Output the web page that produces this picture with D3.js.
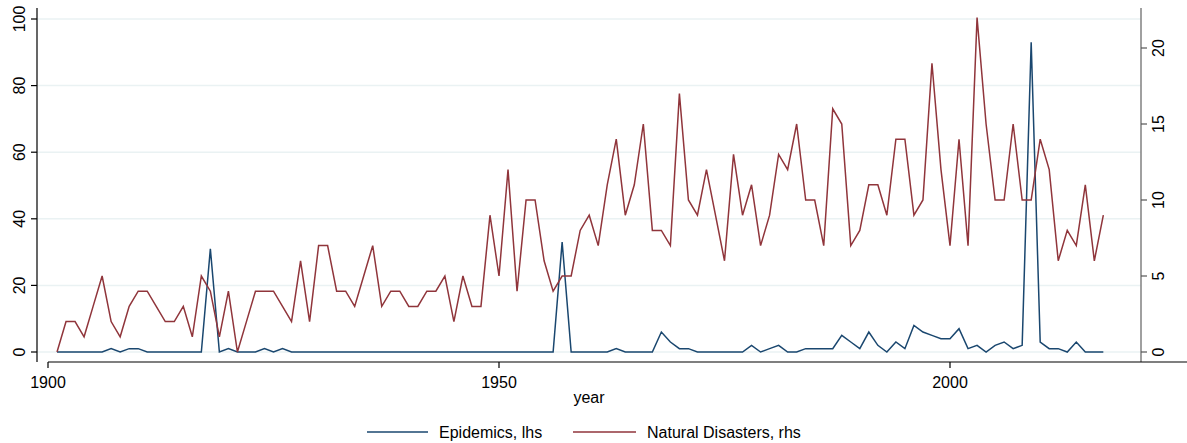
<!DOCTYPE html>
<html>
<head>
<meta charset="utf-8">
<script src="https://cdn.jsdelivr.net/npm/d3@7/dist/d3.min.js"></script>
<style>
  html, body { margin: 0; padding: 0; background: #fff; }
  svg { display: block; font-family: "Liberation Sans", Arial, sans-serif; }
</style>
</head>
<body>
<svg id="chart" width="1187" height="443"></svg>
<script>
const years = d3.range(1901, 2018);
const epidemics = [
  0,0,0,0,0,0,1,0,1,1, 0,0,0,0,0,0,0,31,0,1,
  0,0,0,1,0,1,0,0,0,0, 0,0,0,0,0,0,0,0,0,0,
  0,0,0,0,0,0,0,0,0,0, 0,0,0,0,0,0,33,0,0,0,
  0,0,1,0,0,0,0,6,3,1, 1,0,0,0,0,0,0,2,0,1,
  2,0,0,1,1,1,1,5,3,1, 6,2,0,3,1,8,6,5,4,4,
  7,1,2,0,2,3,1,2,93,3, 1,1,0,3,0,0,0
];
const disasters = [
  0,2,2,1,3,5,2,1,3,4, 4,3,2,2,3,1,5,4,1,4,
  0,2,4,4,4,3,2,6,2,7, 7,4,4,3,5,7,3,4,4,3,
  3,4,4,5,2,5,3,3,9,5, 12,4,10,10,6,4,5,5,8,9,
  7,11,14,9,11,15,8,8,7,17, 10,9,12,9,6,13,9,11,7,9,
  13,12,15,10,10,7,16,15,7,8, 11,11,9,14,14,9,10,19,12,7,
  14,7,22,15,10,10,15,10,10,14, 12,6,8,7,11,6,9
];
const xTicks = [1900, 1950, 2000];
const leftTicks = [0, 20, 40, 60, 80, 100];
const rightTicks = [0, 5, 10, 15, 20];
const seriesNames = ["Epidemics, lhs", "Natural Disasters, rhs"];
const colors = ["#1a476f", "#90353b"];

const svg = d3.select("#chart");
const x = d3.scaleLinear().domain([1900, 2000]).range([48, 950]);
const yL = d3.scaleLinear().domain([0, 100]).range([352, 19]);
const yR = d3.scaleLinear().domain([0, 20]).range([352, 48]);

const plotLeft = 37, plotRight = 1141, plotTop = 8, plotBottom = 362;

// gridlines
svg.append("g").selectAll("line").data(leftTicks).join("line")
  .attr("x1", plotLeft).attr("x2", plotRight)
  .attr("y1", d => yL(d)).attr("y2", d => yL(d))
  .attr("stroke", "#eaf2f3").attr("stroke-width", 1.5);

// left axis
const gL = svg.append("g");
gL.append("line").attr("x1", plotLeft).attr("x2", plotLeft).attr("y1", plotTop).attr("y2", plotBottom)
  .attr("stroke", "#000").attr("stroke-width", 1.2);
gL.selectAll(".t").data(leftTicks).join("line")
  .attr("x1", plotLeft - 6).attr("x2", plotLeft)
  .attr("y1", d => yL(d)).attr("y2", d => yL(d))
  .attr("stroke", "#000").attr("stroke-width", 1.2);
gL.selectAll("text").data(leftTicks).join("text")
  .attr("transform", d => `translate(25,${yL(d)}) rotate(-90)`)
  .attr("text-anchor", "middle").attr("font-size", 16).attr("fill", "#000")
  .text(d => d);

// right axis
const gR = svg.append("g");
gR.append("line").attr("x1", plotRight).attr("x2", plotRight).attr("y1", plotTop).attr("y2", plotBottom)
  .attr("stroke", "#808080").attr("stroke-width", 1.5);
gR.selectAll(".t").data(rightTicks).join("line")
  .attr("x1", plotRight).attr("x2", plotRight + 6)
  .attr("y1", d => yR(d)).attr("y2", d => yR(d))
  .attr("stroke", "#555").attr("stroke-width", 1.2);
gR.selectAll("text").data(rightTicks).join("text")
  .attr("transform", d => `translate(1164,${yR(d)}) rotate(-90)`)
  .attr("text-anchor", "middle").attr("font-size", 16).attr("fill", "#000")
  .text(d => d);

// x axis
const gX = svg.append("g");
gX.append("line").attr("x1", x(1900)).attr("x2", 1187).attr("y1", plotBottom).attr("y2", plotBottom)
  .attr("stroke", "#000").attr("stroke-width", 1.2);
gX.selectAll(".t").data(xTicks).join("line")
  .attr("x1", d => x(d)).attr("x2", d => x(d))
  .attr("y1", plotBottom).attr("y2", plotBottom + 6)
  .attr("stroke", "#000").attr("stroke-width", 1.2);
gX.selectAll("text").data(xTicks).join("text")
  .attr("x", d => x(d)).attr("y", 388)
  .attr("text-anchor", "middle").attr("font-size", 16).attr("fill", "#000")
  .text(d => d);
svg.append("text").attr("x", (plotLeft + plotRight) / 2).attr("y", 403)
  .attr("text-anchor", "middle").attr("font-size", 16).attr("fill", "#000").text("year");

// series lines
const lineL = d3.line().x((d, i) => x(years[i])).y(d => yL(d));
const lineR = d3.line().x((d, i) => x(years[i])).y(d => yR(d));
svg.append("path").datum(epidemics).attr("d", lineL)
  .attr("fill", "none").attr("stroke", colors[0]).attr("stroke-width", 1.5).attr("stroke-linejoin", "miter");
svg.append("path").datum(disasters).attr("d", lineR)
  .attr("fill", "none").attr("stroke", colors[1]).attr("stroke-width", 1.5).attr("stroke-linejoin", "miter");

// legend
const legend = [
  { name: seriesNames[0], color: colors[0], x1: 367, x2: 428, tx: 439 },
  { name: seriesNames[1], color: colors[1], x1: 573, x2: 636, tx: 647 }
];
const gLeg = svg.append("g");
legend.forEach(l => {
  gLeg.append("line").attr("x1", l.x1).attr("x2", l.x2).attr("y1", 432).attr("y2", 432)
    .attr("stroke", l.color).attr("stroke-width", 1.5);
  gLeg.append("text").attr("x", l.tx).attr("y", 437.5).attr("font-size", 16).attr("fill", "#000").text(l.name);
});
</script>
</body>
</html>
